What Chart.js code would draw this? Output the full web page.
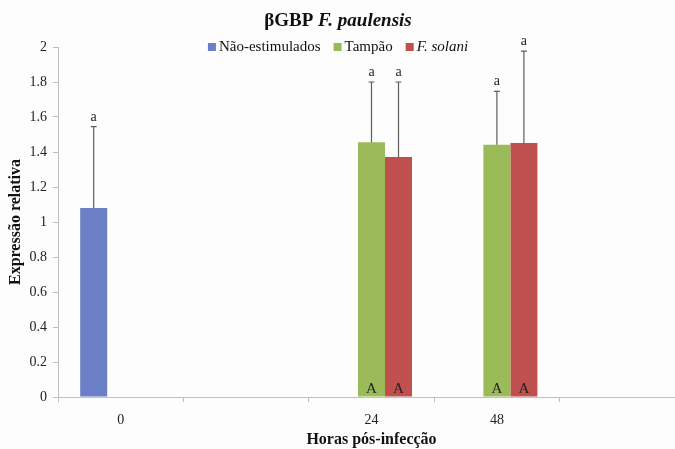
<!DOCTYPE html>
<html>
<head>
<meta charset="utf-8">
<script src="https://cdn.jsdelivr.net/npm/chart.js@4"></script>
<style>
  html, body { margin: 0; padding: 0; background: #fdfdfd; overflow: hidden; }
  #wrap { width: 675px; height: 449px; overflow: hidden; }
</style>
</head>
<body>
<div id="wrap"><canvas id="myChart" width="685" height="449"></canvas></div>
<script>
var categories = ['0', '', '24', '48', ''];
var naoEstimulados = [1.08, null, null, null, null];
var tampao = [null, null, 1.456, 1.441, null];
var fSolani = [null, null, 1.372, 1.452, null];
var errNao = [0.465, null, null, null, null];
var errTampao = [null, null, 0.344, 0.306, null];
var errSolani = [null, null, 0.428, 0.525, null];
var lowerLetter = 'a';
var upperLetter = 'A';

var serif = '"Liberation Serif", "Times New Roman", serif';

// error bars, letters, title and legend
var extras = {
  id: 'extras',
  afterDatasetsDraw: function (chart) {
    var c = chart.ctx;
    var y = chart.scales.y;
    var errs = [errNao, errTampao, errSolani];
    c.save();
    chart.data.datasets.forEach(function (ds, di) {
      var meta = chart.getDatasetMeta(di);
      ds.data.forEach(function (v, i) {
        if (v === null) return;
        var bar = meta.data[i];
        var top = y.getPixelForValue(v + errs[di][i]);
        var base = y.getPixelForValue(v);
        c.strokeStyle = '#5e5e5e';
        c.lineWidth = 1.2;
        c.beginPath();
        c.moveTo(bar.x, base);
        c.lineTo(bar.x, top);
        c.moveTo(bar.x - 3, top);
        c.lineTo(bar.x + 3, top);
        c.stroke();
        c.fillStyle = '#222';
        c.font = '14px ' + serif;
        c.textAlign = 'center';
        c.textBaseline = 'alphabetic';
        c.fillText(lowerLetter, bar.x, top - 6);
        if (di > 0) {
          c.font = '15px ' + serif;
          c.fillText(upperLetter, bar.x, y.getPixelForValue(0) - 4);
        }
      });
    });
    c.restore();
  },
  afterDraw: function (chart) {
    var c = chart.ctx;
    c.save();
    c.textBaseline = 'middle';
    // title
    c.font = 'bold 19px ' + serif;
    var t1 = '\u03b2GBP ';
    var w1 = c.measureText(t1).width;
    c.font = 'bold italic 19px ' + serif;
    var t2 = 'F. paulensis';
    var w2 = c.measureText(t2).width;
    var x = 338 - (w1 + w2) / 2;
    c.fillStyle = '#111';
    c.font = 'bold 19px ' + serif;
    c.textAlign = 'left';
    c.fillText(t1, x, 21);
    c.font = 'bold italic 19px ' + serif;
    c.fillText(t2, x + w1, 21);
    // legend
    var items = [
      { label: 'N\u00e3o-estimulados', color: '#6a7fc6', italic: false },
      { label: 'Tamp\u00e3o', color: '#9bbb59', italic: false },
      { label: 'F. solani', color: '#c0504d', italic: true }
    ];
    var gap = 13, box = 8, boxGap = 3, total = 0;
    items.forEach(function (it) {
      c.font = (it.italic ? 'italic ' : '') + '15px ' + serif;
      it.w = c.measureText(it.label).width;
      total += box + boxGap + it.w;
    });
    total += gap * (items.length - 1);
    var lx = 338 - total / 2, ly = 47;
    items.forEach(function (it) {
      c.fillStyle = it.color;
      c.fillRect(lx, ly - box / 2, box, box);
      c.fillStyle = '#111';
      c.font = (it.italic ? 'italic ' : '') + '15px ' + serif;
      c.fillText(it.label, lx + box + boxGap, ly);
      lx += box + boxGap + it.w + gap;
    });
    c.restore();
  }
};

var ctx = document.getElementById('myChart').getContext('2d');
var myChart = new Chart(ctx, {
  type: 'bar',
  data: {
    labels: categories,
    datasets: [
      { label: 'N\u00e3o-estimulados', data: naoEstimulados, backgroundColor: '#6a7fc6' },
      { label: 'Tamp\u00e3o', data: tampao, backgroundColor: '#9bbb59' },
      { label: 'F. solani', data: fSolani, backgroundColor: '#c0504d' }
    ]
  },
  options: {
    responsive: false,
    animation: false,
    layout: { padding: { top: 47, right: 0, bottom: 0, left: 0 } },
    datasets: { bar: { barPercentage: 1.0, categoryPercentage: 0.646, skipNull: false } },
    plugins: {
      legend: { display: false },
      title: { display: false },
      tooltip: { enabled: false }
    },
    scales: {
      x: {
        grid: { display: true, drawOnChartArea: false, drawTicks: true, tickLength: 5, color: '#c0c0c0', offset: true },
        border: { color: '#c0c0c0' },
        ticks: { color: '#222', font: { family: serif, size: 14 }, padding: 10 },
        title: { display: true, text: 'Horas p\u00f3s-infec\u00e7\u00e3o', color: '#111', font: { family: serif, size: 16, weight: 'bold' }, padding: { top: 2, bottom: 0 } },
        afterFit: function (s) { s.height = 52; }
      },
      y: {
        min: 0,
        max: 2,
        grid: { display: true, drawOnChartArea: false, drawTicks: true, tickLength: 5, color: '#c0c0c0' },
        border: { color: '#c0c0c0' },
        ticks: {
          stepSize: 0.2,
          color: '#222',
          font: { family: serif, size: 14 },
          padding: 6,
          callback: function (v) { return Math.round(v * 10) / 10; }
        },
        title: { display: true, text: 'Express\u00e3o relativa', color: '#111', font: { family: serif, size: 16, weight: 'bold' }, padding: { top: 6, bottom: 0 } },
        afterFit: function (s) { s.width = 58; }
      }
    }
  },
  plugins: [extras]
});
</script>
</body>
</html>
